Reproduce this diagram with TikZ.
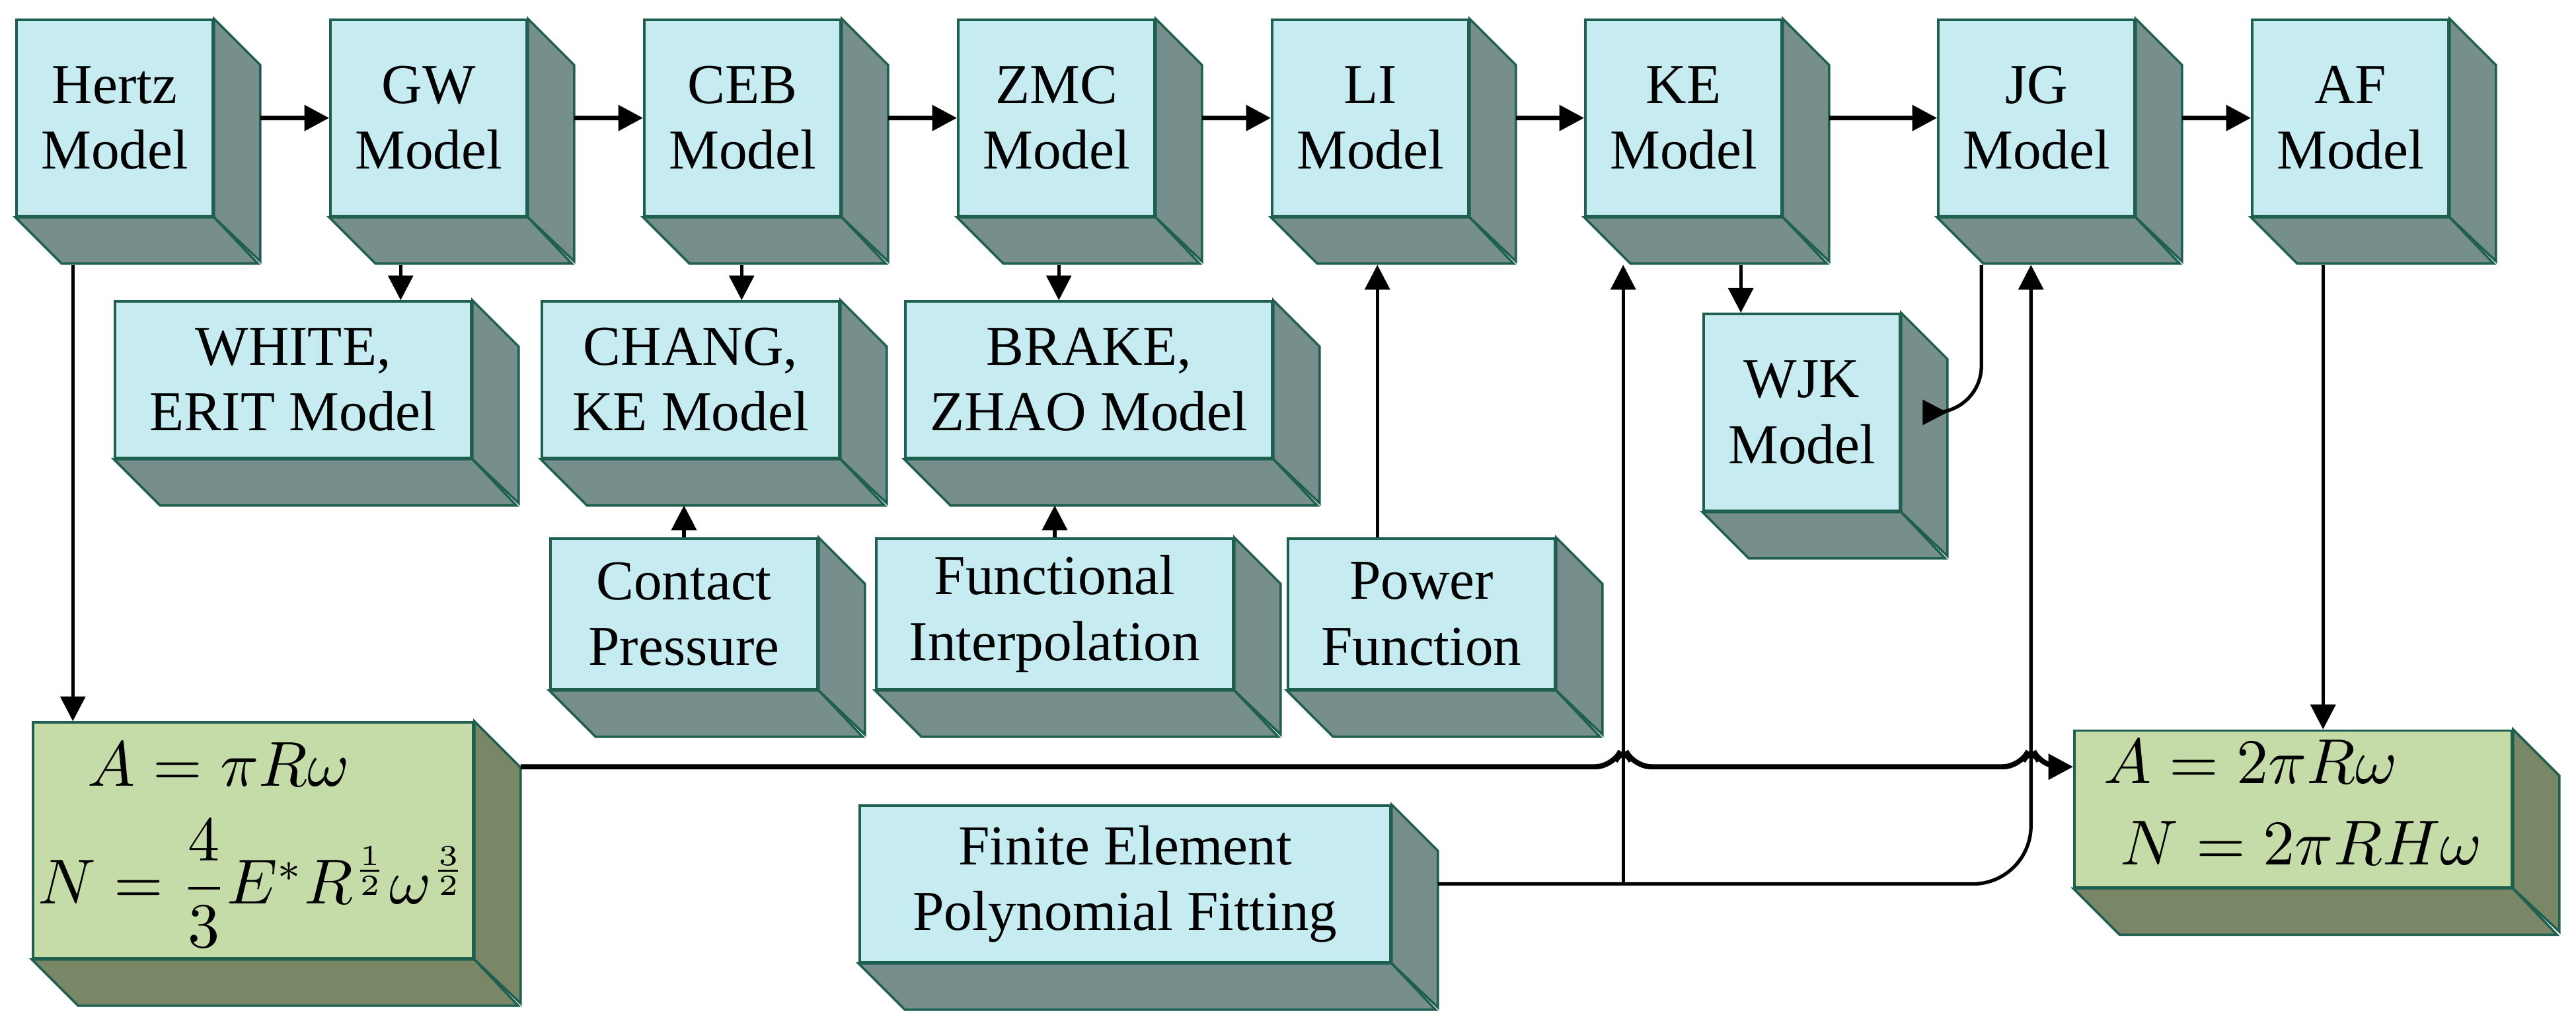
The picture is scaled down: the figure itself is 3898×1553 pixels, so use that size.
\documentclass[tikz,border=0pt]{standalone}
\usepackage{amsmath}
\usepackage{fontspec}
\setmainfont{Liberation Serif}
\usetikzlibrary{calc, arrows.meta, positioning}

\definecolor{cyanface}{HTML}{C6EBF0}
\definecolor{cyanside}{HTML}{768E8C}
\definecolor{greenface}{HTML}{C6DCA8}
\definecolor{greenside}{HTML}{7A8766}
\definecolor{edgecol}{HTML}{1F5F4F}

\tikzset{
  face/.style={draw=edgecol, fill=#1face, line width=0.4pt, align=center, inner sep=0pt,
    font=\fontsize{9.7}{11.3}\selectfont},
  side/.style={draw=edgecol, fill=#1side, line width=0.4pt},
  arr/.style={line width=0.6pt, -{Triangle[length=1.5mm, width=1.5mm]}},
  thickarr/.style={line width=0.9pt, -{Triangle[length=1.5mm, width=1.5mm]}}
}

% cube: [colour] name, x, y, w, h, text
\newcommand{\cube}[7][cyan]{%
  \node[face=#1, minimum width=#5*0.04mm, minimum height=#6*0.04mm] (#2) at (#3+#5/2, #4+#6/2) {#7};
  \filldraw[side=#1] (#2.north east) -- ++(70,70) -- ++(0,#6) -- (#2.south east) -- cycle;
  \filldraw[side=#1] (#2.south west) -- ++(70,70) -- ++(#5,0) -- (#2.south east) -- cycle;}

\begin{document}
\begin{tikzpicture}[x=0.04mm, y=-0.04mm]
  \useasboundingbox (0,0) rectangle (3898,1553);

  % top row
  \cube{hertz}{25}{30}{297}{297}{Hertz\\Model}
  \cube{gw}{500}{30}{297}{297}{GW\\Model}
  \cube{ceb}{975}{30}{297}{297}{CEB\\Model}
  \cube{zmc}{1450}{30}{297}{297}{ZMC\\Model}
  \cube{li}{1925}{30}{297}{297}{LI\\Model}
  \cube{ke}{2399}{30}{297}{297}{KE\\Model}
  \cube{jg}{2933}{30}{297}{297}{JG\\Model}
  \cube{af}{3408}{30}{297}{297}{AF\\Model}

  % second row
  \cube{white}{174}{456}{539}{237}{WHITE,\\ERIT Model}
  \cube{chang}{820}{456}{450}{237}{CHANG,\\KE Model}
  \cube{brake}{1370}{456}{555}{237}{BRAKE,\\ZHAO Model}
  \cube{wjk}{2578}{475}{297}{298}{WJK\\Model}

  % methods
  \cube{contact}{833}{815}{404}{228}{Contact\\Pressure}
  \cube{functional}{1326}{815}{540}{228}{Functional\\Interpolation}
  \cube{power}{1949}{815}{404}{228}{Power\\Function}
  \cube{fe}{1301}{1219}{803}{237}{Finite Element\\Polynomial Fitting}

  % formulas
  \cube[green]{hform}{50}{1093}{666}{357}{\fontsize{10.5}{13}\selectfont
    \begin{tabular}{@{}l@{}}
      \hspace*{3mm}$A=\pi R\omega$\\[2pt]
      $N=\dfrac{4}{3}E^{*}R^{\frac{1}{2}}\omega^{\frac{3}{2}}$
    \end{tabular}}
  \cube[green]{afform}{3139}{1106}{662}{236}{\fontsize{10.5}{13}\selectfont
    \begin{tabular}{@{}l@{}}
      $A=2\pi R\omega$\\[1pt]
      \hspace*{1mm}$N=2\pi RH\omega$
    \end{tabular}}

  % chain of models
  \foreach \a/\b in {hertz/gw, gw/ceb, ceb/zmc, zmc/li, li/ke, ke/jg, jg/af}
    \draw[thickarr] ($(\a.east)+(70,0)$) -- (\b.west);

  % downward links
  \draw[arr] ($(gw.south west)+(108,72)$) coordinate (t1) -- (t1 |- white.north);
  \draw[arr] ($(ceb.south west)+(149,72)$) coordinate (t2) -- (t2 |- chang.north);
  \draw[arr] ($(zmc.south west)+(154,72)$) coordinate (t3) -- (t3 |- brake.north);
  \draw[arr] ($(ke.south west)+(237,72)$) coordinate (t4) -- (t4 |- wjk.north);
  \draw[arr] ($(hertz.south west)+(87,72)$) coordinate (t5) -- (t5 |- hform.north);
  \draw[arr] ($(af.south west)+(109,72)$) coordinate (t6) -- (t6 |- afform.north);
  \draw[arr, rounded corners=8] ($(jg.south west)+(67,72)$) |- ($(wjk.east)+(70,0)$);

  % upward links
  \coordinate (cb) at ($(chang.south)+(0,70)$);
  \draw[arr] (contact.north) -- (contact.north |- cb);
  \draw[arr] (functional.north) -- (functional.north |- cb);
  \coordinate (lb) at ($(li.south)+(0,72)$);
  \draw[arr] ($(power.north west)+(137,0)$) coordinate (p1) -- (p1 |- lb);
  \coordinate (kb) at ($(ke.south west)+(59,72)$);
  \coordinate (jb) at ($(jg.south west)+(142,72)$);
  \draw[arr] (kb |- fe.east) -- (kb);
  \draw[arr, rounded corners=10] ($(fe.east)+(70,0)$) -| (jb);

  % formula link with hops
  \coordinate (s) at ($(hform.north east)+(70,69)$);
  \draw[thickarr, rounded corners=3]
    (s) -- ($(s -| kb)+(-16,0)$) -- ($(s -| kb)+(0,-32)$) -- ($(s -| kb)+(16,0)$)
        -- ($(s -| jb)+(-16,0)$) -- ($(s -| jb)+(0,-32)$) -- ($(s -| jb)+(16,0)$)
        -- (s -| afform.west);
\end{tikzpicture}
\end{document}
